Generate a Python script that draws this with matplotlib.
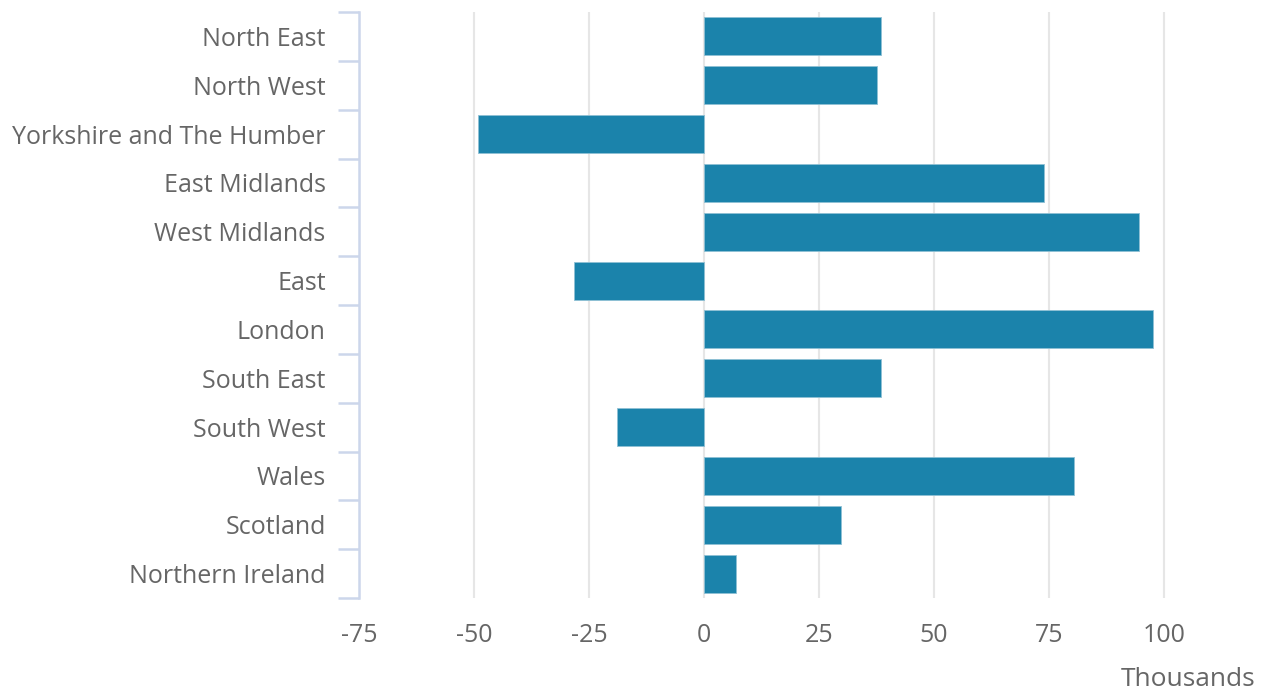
import numpy as np
import matplotlib.pyplot as plt

# -- Données -- #
regions = ["North East", "North West", "Yorkshire and The Humber", "East Midlands",
           "West Midlands", "East", "London", "South East", "South West",
           "Wales", "Scotland", "Northern Ireland"]
valeurs = [38.5, 37.6, -49.2, 73.8, 94.6, -28.3, 97.6, 38.5, -19.0, 80.5, 29.8, 7.0]
xticks = [-75, -50, -25, 0, 25, 50, 75, 100]

plt.rcParams['font.family'] = ['Open Sans', 'DejaVu Sans']

fig = plt.figure(figsize=(12.65, 6.91), dpi=100)
ax = fig.add_axes([359/1265, 1-598/691, (1240-359)/1265, (598-12)/691])

y = np.arange(len(regions))
ax.barh(y, valeurs, height=0.78, color='#1b83ab', edgecolor='#8fc0d4', linewidth=0.6, zorder=3)

ax.set_ylim(len(regions)-0.5, -0.5)
ax.set_xlim(-75, 116.5)

ax.set_yticks(y)
ax.set_yticklabels(regions, fontsize=18, color='#666666')
ax.set_yticks(np.arange(len(regions)+1)-0.5, minor=True)
ax.tick_params(axis='y', which='major', length=0, pad=24)
ax.tick_params(axis='y', which='minor', length=15, width=1.8, color='#ccd6eb')

ax.set_xticks(xticks)
ax.set_xticklabels([str(v) for v in xticks], fontsize=18, color='#666666')
ax.tick_params(axis='x', length=0, pad=18)
ax.grid(axis='x', color='#e6e6e6', linewidth=1.5, zorder=0)

for s in ['top', 'right', 'bottom']:
    ax.spines[s].set_visible(False)
ax.spines['left'].set_color('#ccd6eb')
ax.spines['left'].set_linewidth(1.8)

fig.text(1255/1265, 1-679/691, "Thousands", fontsize=19, color='#666666',
         ha='right', va='center')

fig.savefig('out.png', dpi=100)
